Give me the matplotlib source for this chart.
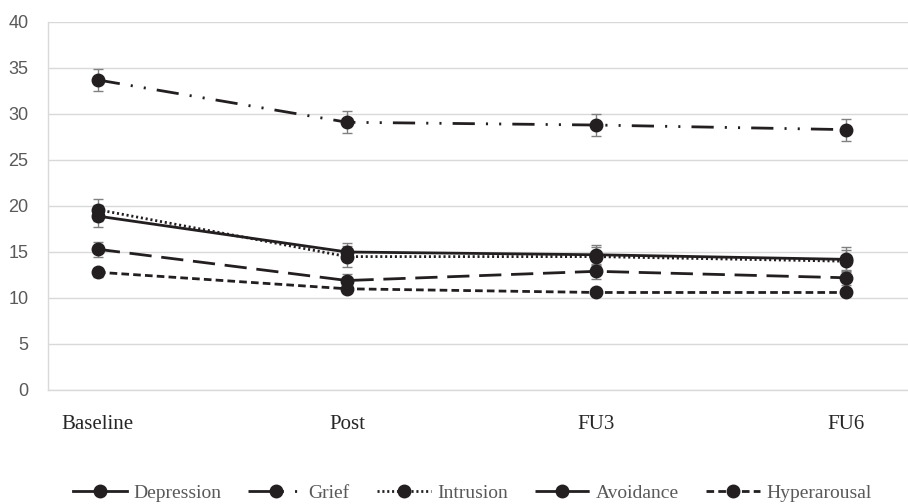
import matplotlib.pyplot as plt

# data
timepoints = ["Baseline", "Post", "FU3", "FU6"]
depression = [18.9, 15.0, 14.7, 14.2]
grief = [33.7, 29.1, 28.8, 28.3]
intrusion = [19.6, 14.5, 14.5, 14.0]
avoidance = [15.3, 11.9, 12.9, 12.2]
hyperarousal = [12.8, 11.0, 10.6, 10.6]

err_depression = [1.2, 1.0, 1.1, 1.3]
err_grief = [1.2, 1.2, 1.2, 1.2]
err_intrusion = [1.2, 1.1, 1.0, 1.2]
err_avoidance = [0.8, 0.7, 0.8, 0.8]
err_hyperarousal = [0.5, 0.5, 0.4, 0.4]

plt.rcParams['lines.scale_dashes'] = False

series = [
    ("Depression", depression, err_depression, "-"),
    ("Grief", grief, err_grief, (0, (16, 8, 1.5, 8, 1.5, 8))),
    ("Intrusion", intrusion, err_intrusion, (0, (1.5, 2))),
    ("Avoidance", avoidance, err_avoidance, (0, (16, 7))),
    ("Hyperarousal", hyperarousal, err_hyperarousal, (0, (5.5, 3))),
]

line_col = "#231f20"
grid_col = "#d9d9d9"
x = list(range(len(timepoints)))

fig = plt.figure(figsize=(9.08, 5.04), dpi=100)
ax = fig.add_axes([48 / 908, 114 / 504, 1 - 48 / 908, 368 / 504])

for name, vals, errs, ls in series:
    ax.errorbar(x, vals, yerr=errs, fmt="none", ecolor="#808080",
                elinewidth=1, capsize=3.3, capthick=1, zorder=2)
    ax.plot(x, vals, linestyle=ls, color=line_col, linewidth=2,
            marker="o", markersize=9, label=name, zorder=3)

ax.set_xlim(-0.2, 3.25)
ax.set_ylim(0, 40)
ax.set_yticks(range(0, 41, 5))
ax.set_xticks(x)
ax.set_xticklabels(timepoints, family="Liberation Serif", fontsize=15,
                   color="#262626")
ax.tick_params(axis="x", length=0, pad=18)
ax.tick_params(axis="y", length=0, pad=14, labelsize=13, labelcolor="#595959")
for lab in ax.get_yticklabels():
    lab.set_family("Liberation Sans")

ax.grid(axis="y", color=grid_col, linewidth=1)
ax.set_axisbelow(True)
for side in ["top", "right"]:
    ax.spines[side].set_visible(False)
for side in ["left", "bottom"]:
    ax.spines[side].set_color(grid_col)
    ax.spines[side].set_linewidth(1)

leg = fig.legend(loc="center", bbox_to_anchor=(0.52, 11 / 504), ncol=5,
                 frameon=False, handlelength=2.8, handletextpad=0.3,
                 columnspacing=1.4,
                 prop={"family": "Liberation Serif", "size": 14})
for t in leg.get_texts():
    t.set_color("#595959")

fig.savefig("out.png", dpi=100)
